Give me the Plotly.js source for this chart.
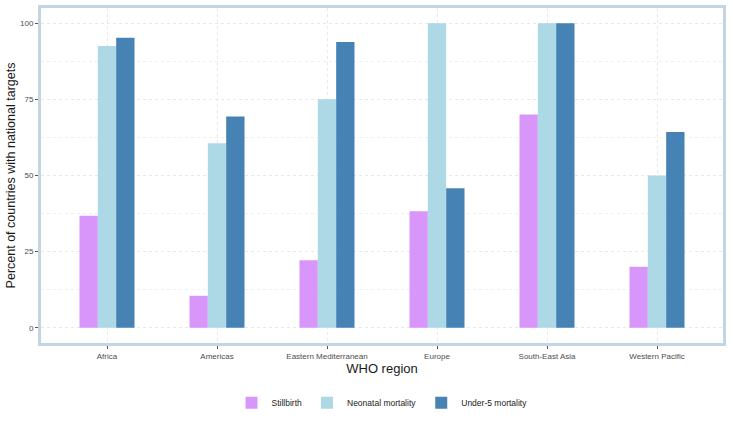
<!DOCTYPE html>
<html>
<head>
<meta charset="utf-8">
<script src="https://cdn.plot.ly/plotly-3.0.1.min.js"></script>
<style>html,body{margin:0;padding:0;background:#fff;}#chart{width:731px;height:425px;}</style>
</head>
<body>
<div id="chart"></div>
<script>
var regions = ["Africa", "Americas", "Eastern Mediterranean", "Europe", "South-East Asia", "Western Pacific"];
var stillbirth = [36.8, 10.5, 22.2, 38.3, 70, 20];
var neonatal = [92.5, 60.6, 75, 100, 100, 50];
var under5 = [95.2, 69.4, 93.8, 45.8, 100, 64.3];
var seriesNames = ["Stillbirth", "Neonatal mortality", "Under-5 mortality"];
var seriesColors = ["#d896fa", "#add8e6", "#4682b4"];

var seriesValues = [stillbirth, neonatal, under5];
var traces = seriesValues.map(function (vals, i) {
  return {
    type: "bar",
    x: regions,
    y: vals,
    name: seriesNames[i],
    marker: {color: seriesColors[i], line: {width: 0}},
    hoverinfo: "x+y+name"
  };
});

var font = "Liberation Sans, Arial, sans-serif";
var layout = {
  width: 731, height: 425,
  margin: {l: 41, r: 8, t: 8, b: 82, autoexpand: false},
  paper_bgcolor: "#ffffff",
  plot_bgcolor: "#ffffff",
  barmode: "group",
  bargap: 0.5,
  bargroupgap: 0,
  font: {family: font, color: "#4d4d4d"},
  showlegend: true,
  legend: {
    orientation: "h", x: 0.5, xanchor: "center", y: -0.135, yanchor: "top",
    font: {family: font, size: 8.5, color: "#1a1a1a"},
    traceorder: "normal", itemwidth: 30
  },
  xaxis: {
    type: "category",
    range: [-0.6, 5.6],
    showgrid: true, gridcolor: "#e8e8e8", griddash: "dot", gridwidth: 1,
    showline: true, linecolor: "#c3d5e2", linewidth: 3, mirror: true,
    ticks: "outside", ticklen: 3, tickcolor: "#555555", tickwidth: 1,
    tickfont: {size: 8, color: "#4d4d4d", family: font},
    zeroline: false, automargin: false,
    title: {text: "WHO region", font: {size: 13, color: "#1a1a1a", family: font}, standoff: 4}
  },
  yaxis: {
    range: [-5, 105],
    tickvals: [0, 25, 50, 75, 100],
    showgrid: true, gridcolor: "#e8e8e8", griddash: "dot", gridwidth: 1,
    minor: {tickvals: [12.5, 37.5, 62.5, 87.5], showgrid: true, gridcolor: "#efefef", griddash: "dot", ticks: ""},
    showline: true, linecolor: "#c3d5e2", linewidth: 3, mirror: true,
    ticks: "outside", ticklen: 3, tickcolor: "#555555", tickwidth: 1,
    tickfont: {size: 8, color: "#4d4d4d", family: font},
    zeroline: false, automargin: true,
    title: {text: "Percent of countries with national targets", font: {size: 12.5, color: "#1a1a1a", family: font}, standoff: 2}
  }
};

Plotly.newPlot("chart", traces, layout, {displayModeBar: false, staticPlot: true});
</script>
</body>
</html>
